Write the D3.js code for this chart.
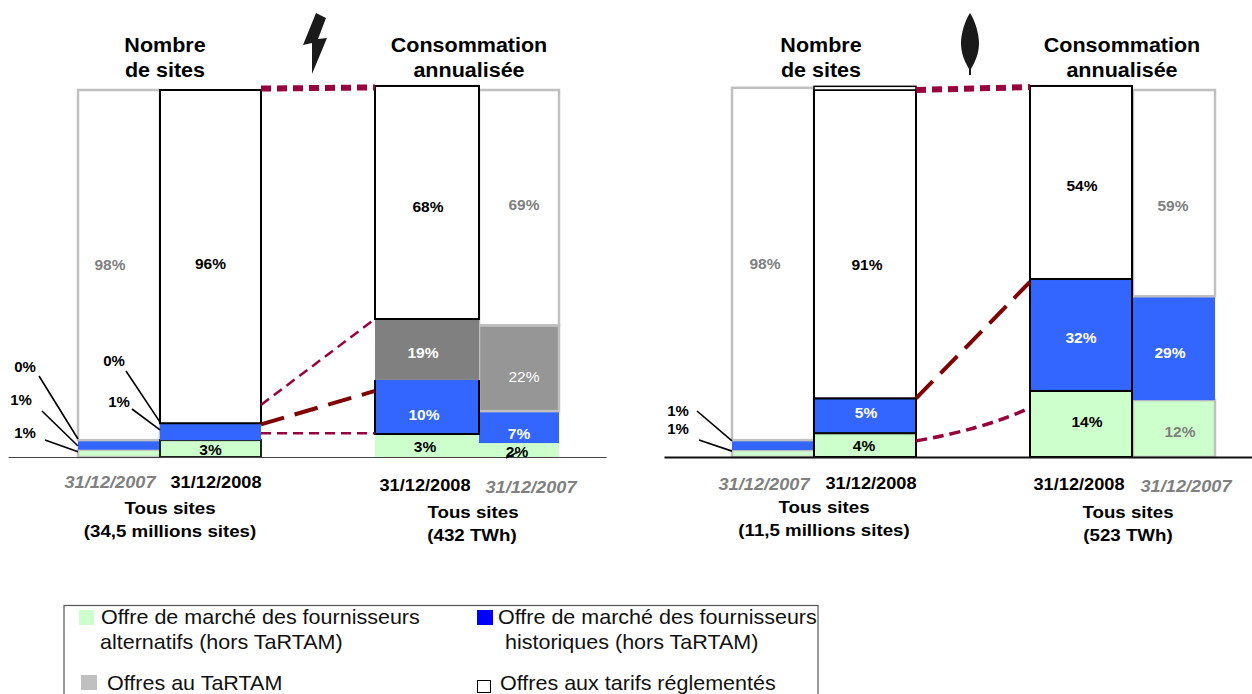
<!DOCTYPE html>
<html>
<head>
<meta charset="utf-8">
<script src="https://cdn.jsdelivr.net/npm/d3@7"></script>
<style>
  html, body { margin: 0; padding: 0; background: #fff; }
  svg { display: block; }
  text { font-family: "Liberation Sans", Arial, sans-serif; }
</style>
</head>
<body>
<svg id="chart" width="1252" height="694"></svg>
<script>
// segment order, bottom to top
const categories = ['alternatifs', 'historiques', 'tartam', 'reglementes']

// printed percentages
const elecSites2007 = [1, 1, 0, 98]
const elecSites2008 = [3, 1, 0, 96]
const elecConso2008 = [3, 10, 19, 68]
const elecConso2007 = [2, 7, 22, 69]
const gazSites2007 = [1, 1, 0, 98]
const gazSites2008 = [4, 5, 0, 91]
const gazConso2008 = [14, 32, 0, 54]
const gazConso2007 = [12, 29, 0, 59]

// the source is not drawn to scale, so these are the heights read off the picture (share of bar height)
const elecSites2007Drawn = [2.0, 2.6, 0, 95.4]
const elecSites2008Drawn = [4.6, 4.6, 0, 90.8]
const elecConso2008Drawn = [6.3, 14.7, 16.6, 63.5]
const elecConso2007Drawn = [3.8, 8.7, 23.4, 64.1]
const gazSites2007Drawn = [1.9, 2.7, 0, 96.0]
const gazSites2008Drawn = [6.5, 9.5, 0, 84.0]
const gazConso2008Drawn = [18.0, 30.5, 0, 52.6]
const gazConso2007Drawn = [15.5, 28.3, 0, 56.2]

const dates = ['31/12/2007', '31/12/2008']
const legendLabels = [
    ['Offre de marché des fournisseurs', 'alternatifs (hors TaRTAM)'],
    ['Offre de marché des fournisseurs', 'historiques (hors TaRTAM)'],
    ['Offres au TaRTAM'],
    ['Offres aux tarifs réglementés']
]

const svg = d3.select('#chart')
const baseY = 457
const y = d3.scaleLinear().domain([0, 100]).range([baseY, 90])

const BLUE = '#3366ff', GREEN = '#ccffcc', GREY = '#c0c0c0', CRIMSON = '#99003c', DARKRED = '#800000'

// bars are not evenly spaced in the source, so an ordinal scale holds the left edges
const barKeys = ['eS07', 'eS08', 'eC08', 'eC07', 'gS07', 'gS08', 'gC08', 'gC07']
const xLeft = d3.scaleOrdinal().domain(barKeys).range([78, 160, 375, 479, 732, 814, 1030, 1133])
const barW = d3.scaleOrdinal().domain(barKeys).range([82, 101, 104, 80, 82, 102, 102, 82])

function label(parent, x, yy, str, o) {
    o = o || {}
    return parent.append('text')
        .attr('transform', `translate(${x},${yy}) scale(${o.sx || 1},1)`)
        .attr('text-anchor', o.anchor || 'middle')
        .attr('dy', '.35em')
        .attr('font-size', o.size || 15.5)
        .attr('font-weight', o.weight || 'bold')
        .attr('font-style', o.style || 'normal')
        .attr('fill', o.fill || '#000')
        .text(str)
}

// fills and strokes per segment: [green, blue, tartam, white]
const bars = [
    { key: 'eS07', vals: elecSites2007, h: elecSites2007Drawn, fills: [GREEN, BLUE, '#808080', '#fff'], strokes: [GREY, 'none', 'none', GREY], sw: 2.5, colors: [null, null, null, '#808080'], dy: [0, 0, 0, 0], dx: [0, 0, 0, -9] },
    { key: 'eS08', vals: elecSites2008, h: elecSites2008Drawn, fills: [GREEN, BLUE, '#808080', '#fff'], strokes: ['#222', 'none', 'none', '#000'], sw: 2, colors: ['#000', null, null, '#000'], dy: [1, 0, 0, 7], dx: [0, 0, 0, 0] },
    { key: 'eC08', vals: elecConso2008, h: elecConso2008Drawn, fills: [GREEN, BLUE, '#808080', '#fff'], strokes: ['none', '#000', 'none', '#000'], sw: 2, colors: ['#000', '#fff', '#fff', '#000'], dy: [1, 8, 3, 4], dx: [-2, -3, -4, 1], noTop: 1 },
    { key: 'eC07', vals: elecConso2007, h: elecConso2007Drawn, fills: [GREEN, BLUE, '#969696', '#fff'], strokes: ['none', 'none', GREY, GREY], sw: 2.5, colors: [null, '#fff', '#fff', '#808080'], dy: [0, 6, 8, -3], dx: [0, 0, 5, 5] },
    { key: 'gS07', vals: gazSites2007, h: gazSites2007Drawn, fills: [GREEN, BLUE, '#808080', '#fff'], strokes: [GREY, 'none', 'none', GREY], sw: 2.5, colors: [null, null, null, '#808080'], dy: [0, 0, 0, 0], dx: [0, 0, 0, -8] },
    { key: 'gS08', vals: gazSites2008, h: gazSites2008Drawn, fills: [GREEN, BLUE, '#808080', '#fff'], strokes: ['#000', '#000', 'none', '#000'], sw: 2, colors: ['#000', '#fff', null, '#000'], dy: [0, -3, 0, 20], dx: [-1, 1, 0, 2] },
    { key: 'gC08', vals: gazConso2008, h: gazConso2008Drawn, fills: [GREEN, BLUE, '#808080', '#fff'], strokes: ['#000', '#000', 'none', '#000'], sw: 2, colors: ['#000', '#fff', null, '#000'], dy: [-2, 3, 0, 3], dx: [6, 0, 0, 1] },
    { key: 'gC07', vals: gazConso2007, h: gazConso2007Drawn, fills: [GREEN, BLUE, '#808080', '#fff'], strokes: [GREY, 'none', 'none', GREY], sw: 2.5, colors: ['#808080', '#fff', null, '#808080'], dy: [3, 4, 0, 12], dx: [6, -4, 0, -1] }
]

// 2007 bars first so the 2008 outlines sit on top
const order = ['eS07', 'eC07', 'gS07', 'gC07', 'eS08', 'eC08', 'gS08', 'gC08']
order.forEach(k => {
    const b = bars.find(d => d.key === k)
    const tops = Array.from(d3.cumsum(b.h))
    const segs = categories.map((c, i) => ({ c, i, h: b.h[i], top: tops[i], bot: tops[i] - b.h[i] })).filter(s => s.h > 0)
    svg.append('g').attr('class', 'bar ' + k)
        .selectAll('rect').data(segs).enter().append('rect')
        .attr('x', xLeft(k))
        .attr('width', barW(k))
        .attr('y', d => y(d.top))
        .attr('height', d => y(d.bot) - y(d.top))
        .attr('fill', d => b.fills[d.i])
        .attr('stroke', d => b.strokes[d.i])
        .attr('stroke-width', b.sw)
        // blue segment of the electricity bar has no line along its top edge
        .attr('stroke-dasharray', d => {
            if (!b.noTop || d.i !== 1) return null
            const w = barW(k), h = y(d.bot) - y(d.top)
            return `0 ${w} ${2 * h + w} 0`
        })
})

// second outline above the gas 2008 bar
svg.append('rect')
    .attr('x', xLeft('gS08')).attr('width', barW('gS08'))
    .attr('y', y(101)).attr('height', y(100) - y(101))
    .attr('fill', '#fff').attr('stroke', '#000').attr('stroke-width', 1.5)

// axes, no ticks
function baseLine(x0, x1, color, w) {
    const s = d3.scaleLinear().domain([0, 1]).range([x0, x1])
    const g = svg.append('g').attr('transform', `translate(0,${baseY})`).call(d3.axisBottom(s).tickValues([]).tickSizeOuter(0))
    g.select('.domain').attr('stroke', color).attr('stroke-width', w)
}
baseLine(8, 606, '#444', 1.2)
baseLine(664, 1252, '#111', 2)

// percent labels
bars.forEach(b => {
    const tops = Array.from(d3.cumsum(b.h))
    categories.forEach((c, i) => {
        if (!b.colors[i]) return
        const mid = tops[i] - b.h[i] / 2
        label(svg, xLeft(b.key) + barW(b.key) / 2 + b.dx[i], y(mid) + b.dy[i], b.vals[i] + '%', {
            fill: b.colors[i],
            weight: (b.key === 'eC07' && i === 2) ? 'normal' : 'bold'
        })
    })
})

// labels outside the thin segments, with their leader lines
const leaders = [
    { text: elecSites2007[2] + '%', lx: 25, ly: 367, x0: 39, y0: 376, key: 'eS07', level: 4.9 },
    { text: elecSites2007[1] + '%', lx: 21, ly: 400, x0: 42, y0: 411, key: 'eS07', level: 3 },
    { text: elecSites2007[0] + '%', lx: 25, ly: 433, x0: 45, y0: 440, key: 'eS07', level: 1.4 },
    { text: elecSites2008[2] + '%', lx: 114, ly: 361, x0: 126, y0: 371, key: 'eS08', level: 9.5 },
    { text: elecSites2008[1] + '%', lx: 119, ly: 402, x0: 132, y0: 409, key: 'eS08', level: 7.4 },
    { text: gazSites2007[1] + '%', lx: 678, ly: 411, x0: 697, y0: 411, key: 'gS07', level: 4.4 },
    { text: gazSites2007[0] + '%', lx: 678, ly: 429, x0: 699, y0: 440, key: 'gS07', level: 1.6 }
]
leaders.forEach(d => {
    label(svg, d.lx, d.ly, d.text, { size: 15 })
    svg.append('line')
        .attr('x1', d.x0).attr('y1', d.y0)
        .attr('x2', xLeft(d.key)).attr('y2', y(d.level))
        .attr('stroke', '#000').attr('stroke-width', 1.6)
})
// tiny pointer under the 2% label
svg.append('line').attr('x1', 506).attr('y1', 458).attr('x2', 518).attr('y2', 452).attr('stroke', '#000').attr('stroke-width', 1.5)
label(svg, 517, 452, elecConso2007[0] + '%')

// dashed links between the 2008 bars, heights in bar units
const linkStyle = {
    top: { color: CRIMSON, w: 6, dash: '10 6' },
    thin: { color: CRIMSON, w: 2.5, dash: '10 6' },
    thick: { color: DARKRED, w: 4, dash: '24 11' }
}
const links = [
    { from: 'eS08', to: 'eC08', a: 100.4, b: 100.7, s: 'top' },
    { from: 'eS08', to: 'eC08', a: 14.2, b: 37.6, s: 'thin' },
    { from: 'eS08', to: 'eC08', a: 8.9, b: 18, s: 'thick' },
    { from: 'eS08', to: 'eC08', a: 6.5, b: 6.5, s: 'thin' },
    { from: 'gS08', to: 'gC08', a: 100, b: 100.8, s: 'top' },
    { from: 'gS08', to: 'gC08', a: 16, b: 47.7, s: 'thick' },
    { from: 'gS08', to: 'gC08', a: 4.4, b: 13.4, s: 'curve' }
]
links.forEach(d => {
    const x1 = xLeft(d.from) + barW(d.from), x2 = xLeft(d.to)
    if (d.s === 'curve') {
        svg.append('path')
            .attr('d', `M${x1},${y(d.a)} Q${(x1 + x2) / 2 + 10},${y((d.a + d.b) / 2) + 5} ${x2},${y(d.b)}`)
            .attr('fill', 'none').attr('stroke', CRIMSON).attr('stroke-width', 3.5).attr('stroke-dasharray', '11 6')
        return
    }
    const st = linkStyle[d.s]
    svg.append('line')
        .attr('x1', x1).attr('y1', y(d.a))
        .attr('x2', x2).attr('y2', y(d.b))
        .attr('stroke', st.color).attr('stroke-width', st.w).attr('stroke-dasharray', st.dash)
})

// panel headers
const TITLE = { size: 20.5, sx: 1.05 }
;[[165, 469], [821, 1122]].forEach(p => {
    label(svg, p[0], 45, 'Nombre', TITLE)
    label(svg, p[0], 70, 'de sites', TITLE)
    label(svg, p[1], 45, 'Consommation', TITLE)
    label(svg, p[1], 70, 'annualisée', TITLE)
})

// date labels under the bars
const DATE = { size: 17, sx: 1.07 }
const DATE07 = { size: 17, sx: 1.07, style: 'italic', fill: '#808080' }
const SUB = { size: 17, sx: 1.1 }
label(svg, 110, 482, dates[0], DATE07)
label(svg, 216, 482, dates[1], DATE)
label(svg, 425, 485, dates[1], DATE)
label(svg, 531, 487, dates[0], DATE07)
label(svg, 764, 484, dates[0], DATE07)
label(svg, 871, 483, dates[1], DATE)
label(svg, 1079, 484, dates[1], DATE)
label(svg, 1186, 486, dates[0], DATE07)

label(svg, 170, 508, 'Tous sites', SUB)
label(svg, 170, 531, '(34,5 millions sites)', SUB)
label(svg, 473, 512, 'Tous sites', SUB)
label(svg, 472, 535, '(432 TWh)', SUB)
label(svg, 824, 507, 'Tous sites', SUB)
label(svg, 824, 530, '(11,5 millions sites)', SUB)
label(svg, 1128, 512, 'Tous sites', SUB)
label(svg, 1128, 535, '(523 TWh)', SUB)

// icons
svg.append('path').attr('d', 'M316,13 L303,45 L312,43 L312,74 L327,38 L318,39 L326,18 Z').attr('fill', '#1a1a1a')
svg.append('path').attr('d', 'M970,13 C975,20 979,34 979,43 C979,54 975,62 971,69 L971,75 L969,75 L969,69 C965,62 961,54 961,43 C961,34 965,20 970,13 Z').attr('fill', '#1a1a1a')

// legend
const legend = svg.append('g')
legend.append('rect').attr('x', 64).attr('y', 605.5).attr('width', 754).attr('height', 100)
    .attr('fill', 'none').attr('stroke', '#555').attr('stroke-width', 1.2)
const LEG = { size: 20.5, sx: 1.05, weight: 'normal', anchor: 'start', fill: '#111' }
const swatches = [
    { x: 79, y: 610, w: 15, h: 15, fill: GREEN },
    { x: 477, y: 610, w: 16, h: 15, fill: '#0000ff' },
    { x: 81, y: 675, w: 16, h: 15, fill: GREY },
    { x: 477.5, y: 680.5, w: 13, h: 12, fill: '#fff', stroke: '#000' }
]
legend.selectAll('rect.sw').data(swatches).enter().append('rect').attr('class', 'sw')
    .attr('x', d => d.x).attr('y', d => d.y).attr('width', d => d.w).attr('height', d => d.h)
    .attr('fill', d => d.fill).attr('stroke', d => d.stroke || 'none')
label(legend, 101, 617, legendLabels[0][0], LEG)
label(legend, 100, 642, legendLabels[0][1], LEG)
label(legend, 498, 617, legendLabels[1][0], LEG)
label(legend, 505, 642, legendLabels[1][1], LEG)
label(legend, 107, 683, legendLabels[2][0], LEG)
label(legend, 500, 683, legendLabels[3][0], LEG)
</script>
</body>
</html>
